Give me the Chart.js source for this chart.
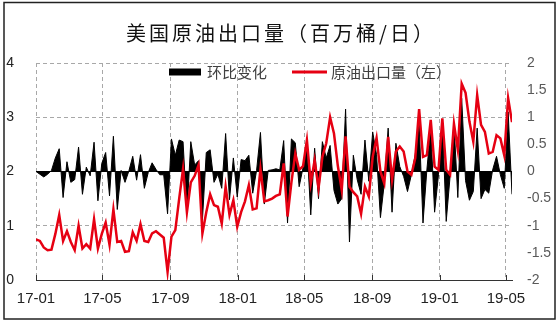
<!DOCTYPE html>
<html>
<head>
<meta charset="utf-8">
<script src="https://cdn.jsdelivr.net/npm/chart.js@4"></script>
<style>
  body { margin: 0; background: #fff; }
</style>
</head>
<body>
<canvas id="exportChart" width="559" height="323"></canvas>
<script>
// weekly US crude exports, first week ending 2017-01-06
const startDate = Date.UTC(2017, 0, 6);
const exportsMbd = [
  0.75, 0.72, 0.60, 0.55, 0.56, 0.85, 1.20, 0.72, 0.90, 0.70,
  0.55, 1.00, 0.58, 0.66, 0.58, 1.12, 0.58, 0.85, 1.06, 0.65,
  1.30, 0.70, 0.72, 0.52, 0.53, 0.88, 0.72, 1.03, 0.72, 0.70,
  0.86, 0.90, 0.84, 0.78, 0.15, 0.80, 0.92, 1.50, 2.05, 1.25,
  1.80, 1.92, 2.12, 0.86, 1.25, 1.58, 1.38, 1.35, 1.04, 1.72,
  1.20, 1.47, 0.98, 1.25, 1.45, 1.75, 1.30, 1.32, 2.05, 1.45,
  1.47, 1.50, 1.55, 1.58, 2.15, 1.17, 1.80, 2.33, 2.03, 2.10,
  2.58, 1.78, 2.21, 1.69, 2.27, 2.52, 3.00, 2.70, 2.10, 1.66,
  2.65, 1.72, 1.62, 1.54, 1.22, 1.72, 1.54, 2.27, 2.62, 2.00,
  1.78, 2.64, 1.85, 2.37, 2.46, 2.37, 2.00, 1.94, 2.25, 3.15,
  2.27, 2.30, 2.95, 2.09, 2.03, 2.98, 2.03, 1.94, 2.88, 2.40,
  3.62, 3.45, 2.92, 2.55, 3.41, 2.86, 2.73, 2.33, 2.36, 2.67,
  2.61, 2.30, 3.35, 2.91
];
const weeklyChange = [
  0.00, -0.05, -0.10, -0.05, 0.02, 0.25, 0.42, -0.48, 0.18, -0.20,
  -0.15, 0.45, -0.42, 0.08, -0.08, 0.54, -0.54, 0.15, 0.35, -0.45,
  0.65, -0.70, 0.02, -0.20, 0.01, 0.28, -0.16, 0.31, -0.31, -0.02,
  0.16, 0.04, -0.06, -0.06, -0.78, 0.60, 0.30, 0.58, 0.55, -0.78,
  0.55, 0.12, 0.20, -0.90, 0.35, 0.40, -0.20, -0.05, -0.31, 0.70,
  -0.52, 0.25, -0.47, 0.22, 0.20, 0.30, -0.40, 0.02, 0.72, -0.60,
  0.02, 0.03, 0.05, 0.03, 0.57, -0.95, 0.60, 0.53, -0.28, 0.07,
  0.50, -0.80, 0.43, -0.50, 0.55, 0.25, 0.48, -0.35, -0.60, -0.50,
  1.15, -1.30, 0.30, -0.15, -0.42, 0.58, -0.18, 0.73, 0.31, -0.85,
  -0.22, 0.80, -0.75, 0.52, 0.09, -0.09, -0.37, -0.06, 0.31, 0.90,
  -0.95, 0.03, 0.80, -0.75, -0.06, 0.95, -0.92, -0.09, 0.90, -0.48,
  1.35, -0.17, -0.53, -0.37, 0.80, -0.50, -0.33, -0.40, 0.03, 0.28,
  -0.06, -0.31, 1.10, -0.42
];
const tickLabels = ['17-01', '17-05', '17-09', '18-01', '18-05', '18-09', '19-01', '19-05'];

const DAY = 86400000;
const weekDays = exportsMbd.map((v, i) => i * 7);
const tickDays = tickLabels.map(l => {
  const yy = 2000 + parseInt(l.slice(0, 2));
  const mm = parseInt(l.slice(3)) - 1;
  return Math.round((Date.UTC(yy, mm, 6) - startDate) / DAY);
});

const tickFont = { family: 'Liberation Sans', size: 14 };
const gridGrey = '#a8a8a8';

const decorations = {
  id: 'decorations',
  afterDraw(chart) {
    const c = chart.ctx;
    const area = chart.chartArea;
    c.save();
    // title
    c.fillStyle = '#111';
    c.font = '20px "Noto Sans CJK SC"';
    c.textAlign = 'center';
    c.textBaseline = 'middle';
    c.letterSpacing = '3px';
    c.fillText('美国原油出口量（百万桶/日）', 281, 33);
    c.letterSpacing = '0px';
    // legend
    c.textAlign = 'left';
    c.font = '15px "Noto Sans CJK SC"';
    c.fillStyle = '#000';
    c.fillRect(169, 68.5, 32, 7);
    c.fillStyle = '#404040';
    c.fillText('环比变化', 207, 72);
    c.strokeStyle = '#e60012';
    c.lineWidth = 3;
    c.beginPath();
    c.moveTo(292, 72);
    c.lineTo(327, 72);
    c.stroke();
    c.fillStyle = '#404040';
    c.fillText('原油出口量（左）', 331, 72);
    // inside tick marks on the x axis
    const xs = chart.scales.x;
    c.strokeStyle = '#333';
    c.lineWidth = 1;
    tickDays.forEach(d => {
      const x = Math.round(xs.getPixelForValue(d)) + 0.5;
      c.beginPath();
      c.moveTo(x, area.bottom);
      c.lineTo(x, area.bottom - 5);
      c.stroke();
    });
    // frame
    c.strokeStyle = '#222';
    c.lineWidth = 1.5;
    c.strokeRect(4, 2.5, 551, 316.5);
    c.restore();
  }
};

new Chart(document.getElementById('exportChart').getContext('2d'), {
  type: 'line',
  data: {
    datasets: [
      {
        label: '原油出口量（左）',
        data: exportsMbd.map((v, i) => ({ x: weekDays[i], y: v })),
        yAxisID: 'y',
        borderColor: '#e60012',
        borderWidth: 2.5,
        pointRadius: 0,
        fill: false,
        tension: 0,
        order: 0
      },
      {
        label: '环比变化',
        data: weeklyChange.map((v, i) => ({ x: weekDays[i], y: v })),
        yAxisID: 'y1',
        borderColor: '#000',
        backgroundColor: '#000',
        borderWidth: 1,
        pointRadius: 0,
        fill: 'origin',
        tension: 0,
        order: 1
      }
    ]
  },
  options: {
    responsive: false,
    animation: false,
    layout: { padding: { top: 63, left: 0, right: 0, bottom: 0 } },
    plugins: {
      legend: { display: false },
      title: { display: false },
      tooltip: { enabled: false }
    },
    scales: {
      x: {
        type: 'linear',
        min: 0,
        max: weekDays[weekDays.length - 1],
        afterBuildTicks: axis => { axis.ticks = tickDays.map(v => ({ value: v })); },
        ticks: {
          callback: v => tickLabels[tickDays.indexOf(v)],
          font: { family: 'Liberation Sans', size: 15 },
          color: '#222',
          padding: 10,
          maxRotation: 0,
          autoSkip: false
        },
        grid: { color: gridGrey, drawTicks: false },
        border: { display: true, color: '#333', width: 1, dash: [4, 3] },
        afterFit: axis => { axis.height = 43; }
      },
      y: {
        position: 'left',
        min: 0,
        max: 4,
        ticks: { stepSize: 1, padding: 22, font: tickFont, color: '#222' },
        grid: { color: gridGrey, drawTicks: false },
        border: { display: false, dash: [4, 3] },
        afterFit: axis => { axis.width = 36; }
      },
      y1: {
        position: 'right',
        min: -2,
        max: 2,
        ticks: {
          stepSize: 0.5,
          padding: 15,
          font: tickFont,
          color: '#595959',
          callback: v => String(v)
        },
        grid: {
          color: ctx => (ctx.tick && ctx.tick.value === 0 ? '#000' : 'transparent'),
          drawTicks: false
        },
        border: { display: false },
        afterFit: axis => { axis.width = 47; }
      }
    }
  },
  plugins: [decorations]
});
</script>
</body>
</html>
